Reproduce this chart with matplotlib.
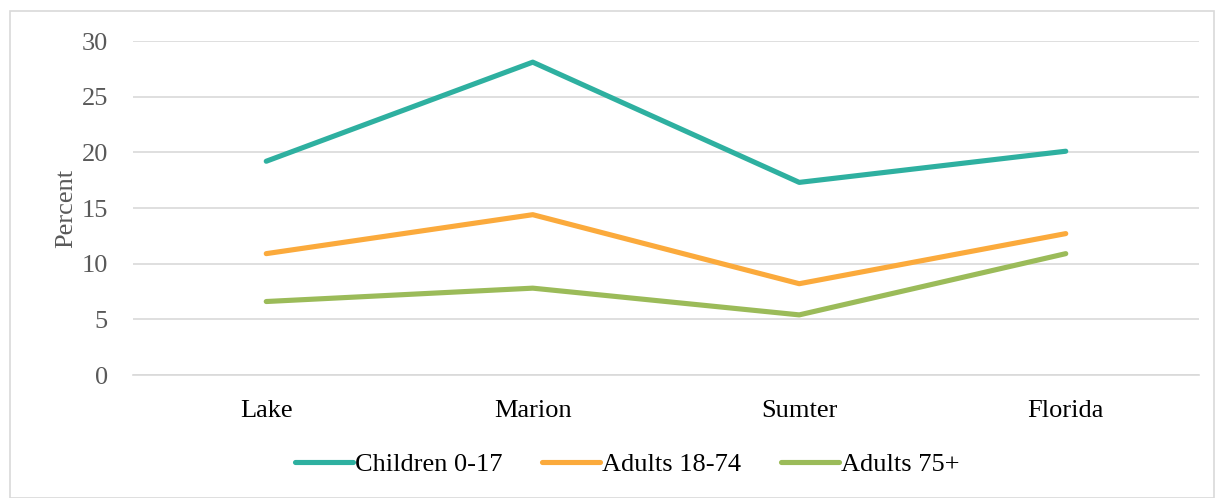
import matplotlib.pyplot as plt
from matplotlib.patches import Rectangle

counties = ["Lake", "Marion", "Sumter", "Florida"]
children = [19.2, 28.1, 17.3, 20.1]
adults_18_74 = [10.9, 14.4, 8.2, 12.7]
adults_75 = [6.6, 7.8, 5.4, 10.9]

plt.rcParams["font.family"] = ["Liberation Serif", "DejaVu Serif"]

fig = plt.figure(figsize=(12.15, 4.98), dpi=100)
ax = fig.add_axes([133 / 1215, 1 - 375 / 498, 1066 / 1215, 334 / 498])

# chart border
fig.patches.append(Rectangle((10 / 1215, 0.0), 1204 / 1215, 1 - 11 / 498,
                             transform=fig.transFigure, fill=False,
                             edgecolor="#d9d9d9", linewidth=1.2))

x = range(len(counties))
lw = 3.7
ax.plot(x, children, color="#2EB0A0", linewidth=lw, solid_capstyle="round",
        label="Children 0-17")
ax.plot(x, adults_18_74, color="#FBAA3C", linewidth=lw, solid_capstyle="round",
        label="Adults 18-74")
ax.plot(x, adults_75, color="#9BBB59", linewidth=lw, solid_capstyle="round",
        label="Adults 75+")

ax.set_xlim(-0.5, 3.5)
ax.set_ylim(0, 30)
ax.set_yticks(range(0, 31, 5))
ax.set_xticks(list(x))
ax.set_xticklabels(counties, fontsize=19, color="#000000")
ax.tick_params(axis="y", labelsize=19, labelcolor="#595959", length=0, pad=18)
ax.tick_params(axis="x", length=0, pad=18)
ax.grid(axis="y", color="#d9d9d9", linewidth=1.2)
ax.set_axisbelow(True)
for s in ax.spines.values():
    s.set_visible(False)
ax.spines["bottom"].set_visible(True)
ax.spines["bottom"].set_color("#d9d9d9")
ax.spines["bottom"].set_linewidth(1.2)
ax.set_ylabel("Percent", fontsize=19, color="#595959", labelpad=3)

fig.legend(loc="center", bbox_to_anchor=(627 / 1215, 1 - 464 / 498), ncol=3,
           frameon=False, fontsize=19, handlelength=2.2, handletextpad=0.08,
           columnspacing=1.5)

fig.savefig("out.png", dpi=100)
